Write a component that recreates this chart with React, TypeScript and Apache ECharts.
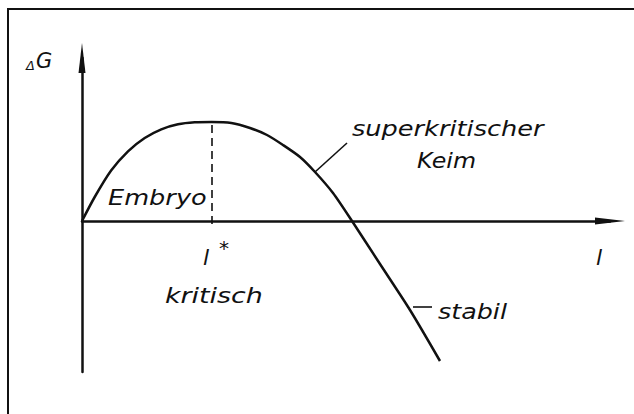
import React, { useEffect, useRef } from "react";
import * as echarts from "echarts";

// Curve: l (size of nucleus) vs ΔG (arbitrary units)
const lValues = [0, 1.27, 2.93, 4.6, 6.27, 7.93, 9.6, 11.27, 12.95, 14.93, 16.8, 18.5, 20.1, 21.8, 23.3, 25.1, 27.0, 29.8, 32.8, 35.8];
const gValues = [0, 2.4, 5.07, 6.97, 8.3, 9.17, 9.67, 9.87, 9.9, 9.8, 9.3, 8.6, 7.6, 6.4, 4.9, 2.8, 0, -4.3, -8.9, -14.0];

// critical size l* and its ΔG maximum
const lCritical = 12.95;
const gCritical = 9.9;

// leader lines for the labels [l1, g1, l2, g2]
const leaderSuper = [23.3, 4.9, 26.5, 7.8];
const leaderStabil = [33.1, -8.6, 35.0, -8.6];

const xRange = [0, 52.8];
const yRange = [-15.1, 16.3];

const FONT = "DejaVu Sans";

export default function App() {
  const ref = useRef<HTMLDivElement>(null);
  useEffect(() => {
    if (!ref.current) return;
    const chart = echarts.init(ref.current, null, { renderer: "svg" });
    const data = lValues.map((l, i) => [l, gValues[i]]);
    const txt = (
      text: string,
      x: number,
      y: number,
      size: number,
      scaleX: number
    ) => ({
      type: "text",
      x,
      y,
      scaleX,
      style: {
        text,
        fill: "#111",
        font: `italic ${size}px '${FONT}'`,
        align: "left",
        verticalAlign: "middle",
      },
    });
    chart.setOption({
      animation: false,
      backgroundColor: "#fff",
      grid: { left: 82, right: 24, top: 58, bottom: 42 },
      xAxis: {
        type: "value",
        min: xRange[0],
        max: xRange[1],
        axisLine: {
          show: true,
          onZero: true,
          lineStyle: { color: "#111", width: 2.5 },
          symbol: ["none", "triangle"],
          symbolSize: [7, 30],
        },
        axisTick: { show: false },
        axisLabel: { show: false },
        splitLine: { show: false },
      },
      yAxis: {
        type: "value",
        min: yRange[0],
        max: yRange[1],
        axisLine: {
          show: true,
          onZero: true,
          lineStyle: { color: "#111", width: 2.5 },
          symbol: ["none", "triangle"],
          symbolSize: [7, 30],
        },
        axisTick: { show: false },
        axisLabel: { show: false },
        splitLine: { show: false },
      },
      series: [
        {
          type: "line",
          data,
          smooth: 0.25,
          showSymbol: false,
          lineStyle: { color: "#111", width: 2.5 },
          markLine: {
            silent: true,
            symbol: "none",
            label: { show: false },
            data: [
              [
                { coord: [lCritical, -0.3], lineStyle: { color: "#111", width: 1.6, type: [8, 5] } },
                { coord: [lCritical, gCritical] },
              ],
              [
                { coord: [leaderSuper[0], leaderSuper[1]], lineStyle: { color: "#111", width: 1.6, type: "solid" } },
                { coord: [leaderSuper[2], leaderSuper[3]] },
              ],
              [
                { coord: [leaderStabil[0], leaderStabil[1]], lineStyle: { color: "#111", width: 1.6, type: "solid" } },
                { coord: [leaderStabil[2], leaderStabil[3]] },
              ],
            ],
          },
        },
      ],
      graphic: [
        {
          type: "rect",
          shape: { x: 8, y: 9, width: 700, height: 500 },
          style: { fill: "none", stroke: "#111", lineWidth: 2 },
        },
        {
          type: "text",
          x: 26,
          y: 61,
          style: {
            text: "{d|Δ}{g|G}",
            fill: "#111",
            verticalAlign: "middle",
            rich: {
              d: { font: `italic 13px '${FONT}'`, fill: "#111", verticalAlign: "bottom", padding: [0, 1, 0, 0] },
              g: { font: `italic 21px '${FONT}'`, fill: "#111" },
            },
          },
        },
        txt("Embryo", 108, 197.6, 21, 1.22),
        txt("superkritischer", 352, 129, 21, 1.22),
        txt("Keim", 417, 161, 21, 1.13),
        txt("kritisch", 165, 295.6, 21, 1.28),
        txt("stabil", 438, 311.6, 21, 1.21),
        txt("l", 203, 257, 22, 1.0),
        txt("*", 219, 248, 20, 1.0),
        txt("l", 596, 257, 22, 1.0),
      ],
    });
    return () => chart.dispose();
  }, []);
  return (
    <div
      ref={ref}
      style={{ position: "fixed", left: 0, top: 0, width: 634, height: 414 }}
    />
  );
}
